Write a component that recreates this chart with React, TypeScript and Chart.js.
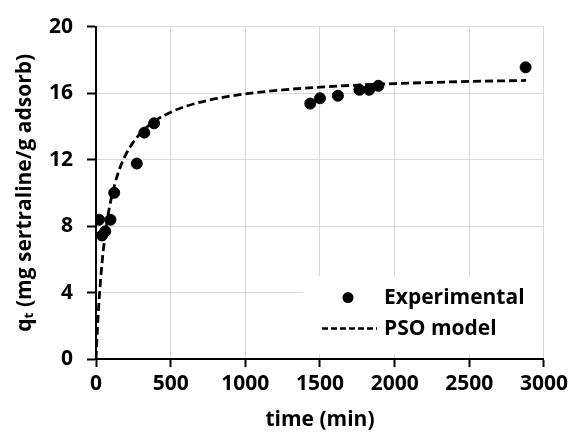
import React, { useEffect, useRef } from "react";
import { Chart, registerables } from "chart.js";

Chart.register(...registerables);

// Experimental data (time in min, q_t in mg sertraline / g adsorb)
const expTime = [20, 40, 62, 97, 122, 273, 324, 389, 1435, 1500, 1620, 1764, 1829, 1891, 2877];
const expQ = [8.38, 7.43, 7.68, 8.38, 10.0, 11.76, 13.62, 14.18, 15.37, 15.69, 15.84, 16.2, 16.2, 16.44, 17.55];

// PSO model curve
const psoTime = [0, 10, 20, 40, 60, 80, 100, 150, 200, 250, 300, 400, 500, 600, 800, 1000, 1250, 1500, 1750, 2000, 2250, 2500, 2750, 2880];
const psoQ = [0, 1.91, 3.45, 5.74, 7.38, 8.62, 9.57, 11.24, 12.31, 13.05, 13.6, 14.36, 14.85, 15.2, 15.66, 15.95, 16.19, 16.36, 16.48, 16.57, 16.64, 16.7, 16.74, 16.76];

const xTitle = "time (min)";
const yTitle = "q\u209C (mg sertraline/g adsorb)";
const seriesNames = ["Experimental", "PSO model"];

const FONT = "'Open Sans', 'DejaVu Sans', sans-serif";

const legendPlugin = {
  id: "boxLegend",
  afterDatasetsDraw(chart: any) {
    const { ctx, chartArea: ca } = chart;
    ctx.save();
    ctx.fillStyle = "#ffffff";
    ctx.fillRect(ca.left + 207, ca.top + 250, 240, 77);
    // Row 1: marker
    ctx.fillStyle = "#000";
    ctx.beginPath();
    ctx.arc(ca.left + 252, ca.top + 271, 5.5, 0, Math.PI * 2);
    ctx.fill();
    // Row 2: dashed line
    ctx.strokeStyle = "#000";
    ctx.lineWidth = 2.5;
    ctx.setLineDash([6, 3]);
    ctx.beginPath();
    ctx.moveTo(ca.left + 226, ca.top + 302);
    ctx.lineTo(ca.left + 281, ca.top + 302);
    ctx.stroke();
    ctx.setLineDash([]);
    ctx.font = `bold 21px ${FONT}`;
    ctx.textBaseline = "middle";
    ctx.textAlign = "left";
    ctx.fillStyle = "#000";
    ctx.fillText(seriesNames[0], ca.left + 288, ca.top + 271);
    ctx.fillText(seriesNames[1], ca.left + 288, ca.top + 302);
    ctx.restore();
  },
};

export default function App() {
  const ref = useRef<HTMLCanvasElement | null>(null);
  useEffect(() => {
    if (!ref.current) return;
    const chart = new Chart(ref.current, {
      type: "scatter",
      data: {
        datasets: [
          {
            label: seriesNames[0],
            data: expTime.map((t, i) => ({ x: t, y: expQ[i] })),
            backgroundColor: "#000",
            borderColor: "#000",
            pointRadius: 5.5,
            pointHoverRadius: 5.5,
            showLine: false,
          },
          {
            label: seriesNames[1],
            data: psoTime.map((t, i) => ({ x: t, y: psoQ[i] })),
            borderColor: "#000",
            backgroundColor: "#000",
            borderWidth: 2.8,
            borderDash: [8, 4],
            pointRadius: 0,
            showLine: true,
            cubicInterpolationMode: "monotone",
          },
        ],
      },
      options: {
        responsive: false,
        animation: false,
        devicePixelRatio: 1,
        layout: { padding: { top: 23, right: 26, left: 0, bottom: 0 } },
        plugins: {
          legend: { display: false },
          tooltip: { enabled: false },
        },
        scales: {
          x: {
            type: "linear",
            min: 0,
            max: 3000,
            ticks: {
              stepSize: 500,
              color: "#000",
              padding: 4,
              maxRotation: 0,
              font: { family: FONT, size: 21, weight: "bold" },
              callback: (v: any) => String(v),
            },
            grid: {
              color: "#d9d9d9",
              lineWidth: 1,
              tickColor: "#000",
              tickWidth: 2,
              tickLength: 8,
            },
            border: { color: "#000", width: 2 },
            title: {
              display: true,
              text: xTitle,
              color: "#000",
              font: { family: FONT, size: 21, weight: "bold" },
              padding: { bottom: 6 },
            },
            afterFit: (s: any) => {
              s.height = 80;
            },
          },
          y: {
            type: "linear",
            min: 0,
            max: 20,
            ticks: {
              stepSize: 4,
              color: "#000",
              padding: 14,
              font: { family: FONT, size: 21, weight: "bold" },
              callback: (v: any) => String(v),
            },
            grid: {
              color: "#d9d9d9",
              lineWidth: 1,
              tickColor: "#000",
              tickWidth: 2,
              tickLength: 9,
            },
            border: { color: "#000", width: 2 },
            title: {
              display: true,
              text: yTitle,
              color: "#000",
              font: { family: FONT, size: 21, weight: "bold" },
              padding: { top: 12 },
            },
            afterFit: (s: any) => {
              s.width = 96;
            },
          },
        },
      },
      plugins: [legendPlugin],
    });
    return () => chart.destroy();
  }, []);
  return (
    <div style={{ position: "fixed", left: 0, top: 0, width: 572, height: 439, background: "#fff" }}>
      <canvas ref={ref} width={572} height={439} />
    </div>
  );
}
